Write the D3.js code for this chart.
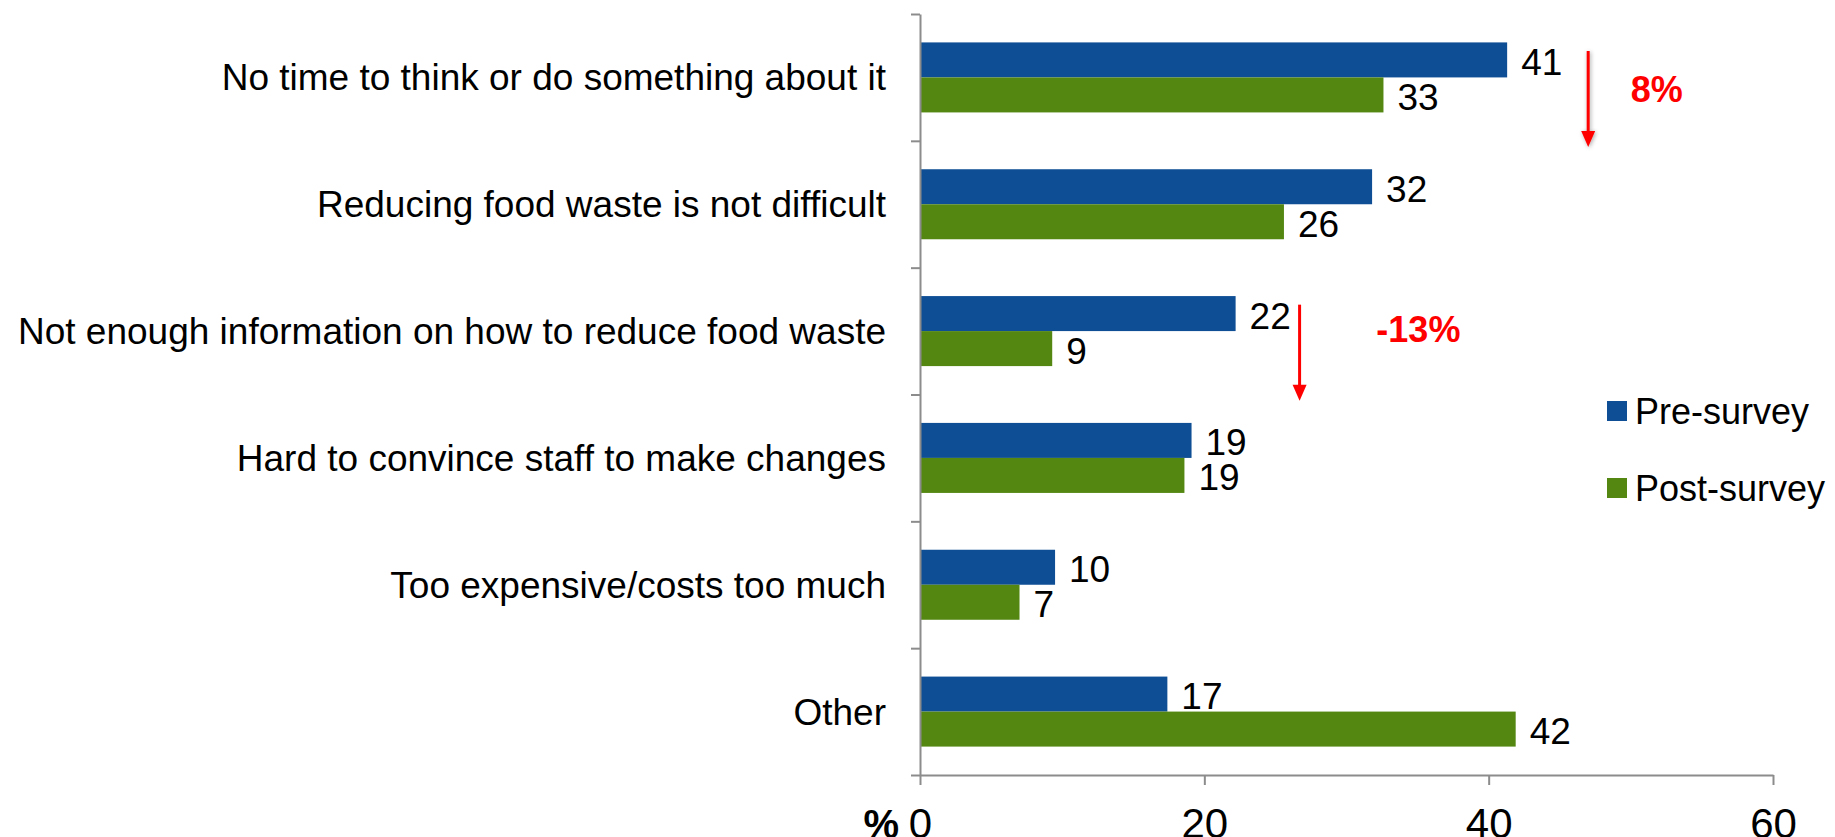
<!DOCTYPE html>
<html>
<head>
<meta charset="utf-8">
<script src="https://cdn.jsdelivr.net/npm/d3@7"></script>
<style>
  body { margin: 0; background: #fff; }
  text { font-family: "Liberation Sans", Arial, sans-serif; }
</style>
</head>
<body>
<svg id="chart"></svg>
<script>
var width = 1835;
var height = 837;
var margin = {top: 14, bottom: 62, left: 920, right: 62};

// data
var categories = [
  "No time to think or do something about it",
  "Reducing food waste is not difficult",
  "Not enough information on how to reduce food waste",
  "Hard to convince staff to make changes",
  "Too expensive/costs too much",
  "Other"
];
var seriesNames = ["Pre-survey", "Post-survey"];
var preSurvey = [41.3, 31.8, 22.2, 19.1, 9.5, 17.4];
var postSurvey = [32.6, 25.6, 9.3, 18.6, 7.0, 41.9];
var xTicks = [0, 20, 40, 60];
var changeCategories = [categories[0], categories[2]];
var changeArrowAt = [47, 26.7];
var changeLabelAt = [50, 32.1];
var changeLabels = ["8%", "-13%"];

var colors = d3.scaleOrdinal().domain(seriesNames).range(["#0e4e94", "#538712"]);
var axisColor = "#8c8c8c";

var data = categories.map(function(c, i) {
  return {category: c, values: [
    {key: seriesNames[0], value: preSurvey[i]},
    {key: seriesNames[1], value: postSurvey[i]}
  ]};
});

var svg = d3.select('#chart')
  .attr('width', width)
  .attr('height', height);

var innerW = width - margin.left - margin.right;
var innerH = height - margin.top - margin.bottom;

var g = svg.append('g')
  .attr('transform', 'translate(' + margin.left + ',' + margin.top + ')');

var x = d3.scaleLinear().domain([0, 60]).range([0, innerW]);

var y0 = d3.scaleBand()
  .domain(categories)
  .range([0, innerH])
  .paddingInner(0.448)
  .paddingOuter(0.224);

var y1 = d3.scaleBand()
  .domain(seriesNames)
  .range([0, y0.bandwidth()]);

// boundaries between categories, for the y axis ticks
var yEdge = d3.scaleLinear().domain([0, categories.length]).range([0, innerH]);

// bars
var groups = g.append('g')
  .selectAll('g')
  .data(data)
  .enter().append('g')
    .attr('transform', function(d) { return 'translate(0,' + y0(d.category) + ')'; });

groups.selectAll('rect')
  .data(function(d) { return d.values; })
  .enter().append('rect')
    .attr('x', 0)
    .attr('y', function(d) { return y1(d.key); })
    .attr('width', function(d) { return x(d.value); })
    .attr('height', y1.bandwidth())
    .attr('fill', function(d) { return colors(d.key); });

groups.selectAll('text.val')
  .data(function(d) { return d.values; })
  .enter().append('text')
    .attr('class', 'val')
    .attr('x', function(d) { return x(d.value) + 14; })
    .attr('y', function(d) { return y1(d.key) + y1.bandwidth() / 2 + 2; })
    .attr('dy', '0.35em')
    .attr('font-size', 37)
    .attr('fill', '#000')
    .text(function(d) { return d3.format('.0f')(d.value); });

// y axis
var yAxis = g.append('g')
  .call(d3.axisLeft(yEdge).tickValues(d3.range(categories.length + 1)).tickFormat('').tickSize(9).tickSizeOuter(0));
yAxis.select('.domain').attr('stroke', axisColor).attr('stroke-width', 2);
yAxis.selectAll('line').attr('stroke', axisColor).attr('stroke-width', 2);

// category labels
g.append('g')
  .selectAll('text')
  .data(categories)
  .enter().append('text')
    .attr('x', -34)
    .attr('y', function(d) { return y0(d) + y0.bandwidth() / 2; })
    .attr('dy', '0.35em')
    .attr('text-anchor', 'end')
    .attr('font-size', 37)
    .attr('fill', '#000')
    .text(function(d) { return d; });

// x axis
var xAxis = g.append('g')
  .attr('transform', 'translate(0,' + innerH + ')')
  .call(d3.axisBottom(x).tickValues(xTicks).tickSize(10).tickSizeOuter(0));
xAxis.select('.domain').attr('stroke', axisColor).attr('stroke-width', 2);
xAxis.selectAll('line').attr('stroke', axisColor).attr('stroke-width', 2);
xAxis.selectAll('text')
  .attr('y', 63)
  .attr('dy', 0)
  .attr('font-size', 42)
  .attr('font-family', '"Liberation Sans", Arial, sans-serif')
  .attr('fill', '#000');

g.append('text')
  .attr('x', -21)
  .attr('y', innerH + 63)
  .attr('text-anchor', 'end')
  .attr('font-size', 40)
  .attr('font-weight', 'bold')
  .attr('fill', '#000')
  .text('%');

// legend
var legend = svg.append('g')
  .selectAll('g')
  .data(seriesNames)
  .enter().append('g')
    .attr('transform', function(d, i) { return 'translate(1607,' + (411 + i * 77) + ')'; });

legend.append('rect')
  .attr('x', 0)
  .attr('y', -10)
  .attr('width', 20)
  .attr('height', 20)
  .attr('fill', colors);

legend.append('text')
  .attr('x', 28)
  .attr('y', 0)
  .attr('dy', '0.35em')
  .attr('font-size', 36)
  .attr('fill', '#000')
  .text(function(d) { return d; });

// change annotations
var defs = svg.append('defs');
defs.append('filter')
  .attr('id', 'shadow')
  .attr('x', '-200%').attr('width', '500%')
  .append('feDropShadow')
    .attr('dx', 1).attr('dy', 1)
    .attr('stdDeviation', 2)
    .attr('flood-color', '#000')
    .attr('flood-opacity', 0.35);

var labelDy = [12, -2];

changeCategories.forEach(function(c, i) {
  var ax = x(changeArrowAt[i]);
  var top = y0(c) - (y0.step() - y0.bandwidth()) / 2 + 37;
  var tip = top + 96;
  var arrow = g.append('g');
  if (i === 0) arrow.attr('filter', 'url(#shadow)');
  arrow.append('line')
    .attr('x1', ax).attr('x2', ax)
    .attr('y1', top).attr('y2', tip - 14)
    .attr('stroke', '#ff0000')
    .attr('stroke-width', 3);
  arrow.append('path')
    .attr('d', 'M' + (ax - 7) + ',' + (tip - 16) + 'L' + (ax + 7) + ',' + (tip - 16) + 'L' + ax + ',' + tip + 'Z')
    .attr('fill', '#ff0000');

  g.append('text')
    .attr('x', x(changeLabelAt[i]))
    .attr('y', y0(c) + y0.bandwidth() / 2 + labelDy[i])
    .attr('dy', '0.35em')
    .attr('font-size', 36)
    .attr('font-weight', 'bold')
    .attr('fill', '#ff0000')
    .text(changeLabels[i]);
});
</script>
</body>
</html>
